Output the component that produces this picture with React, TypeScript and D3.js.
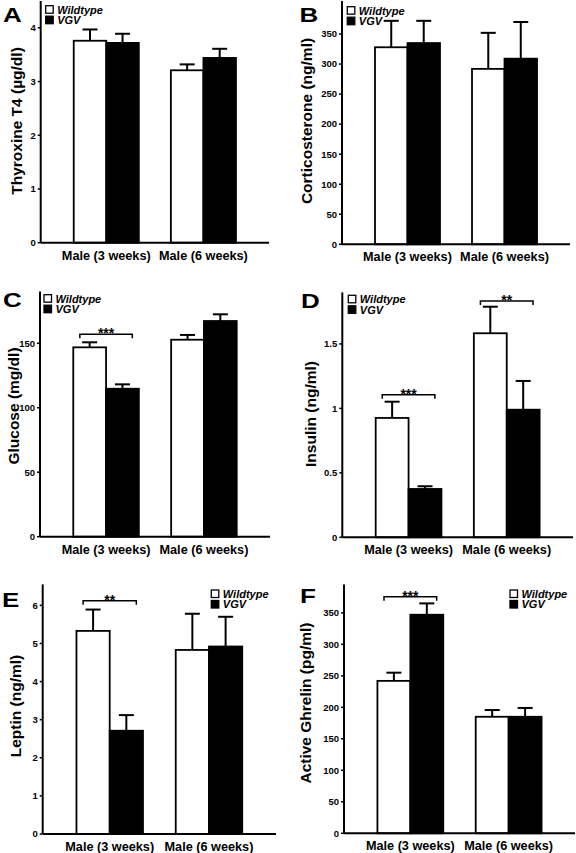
import React from "react";
import * as d3 from "d3";

const groups = ["Male (3 weeks)", "Male (6 weeks)"];
const seriesNames = ["Wildtype", "VGV"];

const thyroxineWT = [3.76, 3.21];
const thyroxineWTErr = [0.21, 0.11];
const thyroxineVGV = [3.72, 3.44];
const thyroxineVGVErr = [0.17, 0.17];
const thyroxineTicks = [0, 1, 2, 3, 4];

const corticoWT = [328, 292];
const corticoWTErr = [44, 60];
const corticoVGV = [335, 309];
const corticoVGVErr = [37, 61];
const corticoTicks = [0, 50, 100, 150, 200, 250, 300, 350];

const glucoseWT = [146.8, 152.7];
const glucoseWTErr = [3.9, 3.7];
const glucoseVGV = [114.7, 167.2];
const glucoseVGVErr = [3.4, 5.2];
const glucoseTicks = [0, 50, 100, 150];

const insulinWT = [0.926, 1.583];
const insulinWTErr = [0.126, 0.206];
const insulinVGV = [0.375, 0.99];
const insulinVGVErr = [0.021, 0.223];
const insulinTicks = [0, 0.5, 1, 1.5];

const leptinWT = [5.33, 4.83];
const leptinWTErr = [0.56, 0.95];
const leptinVGV = [2.71, 4.92];
const leptinVGVErr = [0.41, 0.78];
const leptinTicks = [0, 1, 2, 3, 4, 5, 6];

const ghrelinWT = [242, 185];
const ghrelinWTErr = [13, 10.7];
const ghrelinVGV = [347, 185];
const ghrelinVGVErr = [18, 14];
const ghrelinTicks = [0, 50, 100, 150, 200, 250, 300, 350];

const FONT = "'Liberation Sans', Arial, Helvetica, sans-serif";

type Sig = { group: number; value: number; text: string };
type Panel = {
  letter: string;
  letterX: number;
  letterY: number;
  label: string;
  labelX: number;
  labelY: number;
  axisX: number;
  axisEnd: number;
  top: number;
  bottom: number;
  yMax: number;
  ticks: number[];
  legendX: number;
  legendY: number;
  wt: number[];
  wtErr: number[];
  vgv: number[];
  vgvErr: number[];
  sig: Sig[];
};

const panels: Panel[] = [
  {
    letter: "A", letterX: 3, letterY: 21.7, label: "Thyroxine T4 (\u00b5g/dl)", labelX: 22, labelY: 121,
    axisX: 40.7, axisEnd: 269, top: 1, bottom: 242.7, yMax: 4.5, ticks: thyroxineTicks,
    legendX: 45.7, legendY: 5.7,
    wt: thyroxineWT, wtErr: thyroxineWTErr, vgv: thyroxineVGV, vgvErr: thyroxineVGVErr, sig: [],
  },
  {
    letter: "B", letterX: 299.5, letterY: 21.7, label: "Corticosterone (ng/ml)", labelX: 312, labelY: 121,
    axisX: 342, axisEnd: 570, top: 1, bottom: 244.3, yMax: 405, ticks: corticoTicks,
    legendX: 347.3, legendY: 6.7,
    wt: corticoWT, wtErr: corticoWTErr, vgv: corticoVGV, vgvErr: corticoVGVErr, sig: [],
  },
  {
    letter: "C", letterX: 3, letterY: 306.5, label: "Glucose (mg/dl)", labelX: 19, labelY: 406,
    axisX: 40, axisEnd: 270, top: 291.6, bottom: 536.7, yMax: 190, ticks: glucoseTicks,
    legendX: 44, legendY: 294.7,
    wt: glucoseWT, wtErr: glucoseWTErr, vgv: glucoseVGV, vgvErr: glucoseVGVErr,
    sig: [{ group: 0, value: 157, text: "***" }],
  },
  {
    letter: "D", letterX: 301, letterY: 308.3, label: "Insulin (ng/ml)", labelX: 316, labelY: 414,
    axisX: 342.3, axisEnd: 573, top: 292.4, bottom: 537.3, yMax: 1.9, ticks: insulinTicks,
    legendX: 348.3, legendY: 295.3,
    wt: insulinWT, wtErr: insulinWTErr, vgv: insulinVGV, vgvErr: insulinVGVErr,
    sig: [
      { group: 0, value: 1.106, text: "***" },
      { group: 1, value: 1.833, text: "**" },
    ],
  },
  {
    letter: "E", letterX: 2, letterY: 606.7, label: "Leptin (ng/ml)", labelX: 21, labelY: 706,
    axisX: 42.7, axisEnd: 276, top: 584.4, bottom: 834, yMax: 6.55, ticks: leptinTicks,
    legendX: 211.3, legendY: 590,
    wt: leptinWT, wtErr: leptinWTErr, vgv: leptinVGV, vgvErr: leptinVGVErr,
    sig: [{ group: 0, value: 6.12, text: "**" }],
  },
  {
    letter: "F", letterX: 300, letterY: 603.3, label: "Active Ghrelin (pg/ml)", labelX: 311, labelY: 703,
    axisX: 344, axisEnd: 575, top: 584.5, bottom: 833.3, yMax: 395, ticks: ghrelinTicks,
    legendX: 510, legendY: 590,
    wt: ghrelinWT, wtErr: ghrelinWTErr, vgv: ghrelinVGV, vgvErr: ghrelinVGVErr,
    sig: [{ group: 0, value: 375.6, text: "***" }],
  },
];

function PanelChart({ p }: { p: Panel }) {
  const x = d3
    .scaleBand<string>()
    .domain(groups)
    .range([p.axisX, p.axisEnd])
    .paddingInner(0.33)
    .paddingOuter(0.34);
  const xs = d3.scaleBand<string>().domain(seriesNames).range([0, x.bandwidth()]).padding(0);
  const y = d3.scaleLinear().domain([0, p.yMax]).range([p.bottom, p.top]);
  const series = [
    { name: "Wildtype", vals: p.wt, errs: p.wtErr, fill: "#fff" },
    { name: "VGV", vals: p.vgv, errs: p.vgvErr, fill: "#000" },
  ];
  const capW = 15;
  return (
    <g>
      <text
        transform={`translate(${p.letterX},${p.letterY}) scale(1.3,1)`}
        fontSize={20}
        fontWeight="bold"
        fontFamily={FONT}
      >
        {p.letter}
      </text>
      <text
        transform={`translate(${p.labelX},${p.labelY}) rotate(-90)`}
        textAnchor="middle"
        fontSize={15.5}
        fontWeight="bold"
        fontFamily={FONT}
      >
        {p.label}
      </text>
      {series.map((s) =>
        groups.map((g, i) => {
          const bx = (x(g) as number) + (xs(s.name) as number);
          const bw = xs.bandwidth();
          const cx = bx + bw / 2;
          const yt = y(s.vals[i]);
          const ye = y(s.vals[i] + s.errs[i]);
          return (
            <g key={s.name + g}>
              <line x1={cx} x2={cx} y1={yt} y2={ye} stroke="#000" strokeWidth={2} />
              <line x1={cx - capW / 2} x2={cx + capW / 2} y1={ye} y2={ye} stroke="#000" strokeWidth={2} />
              <rect x={bx} y={yt} width={bw} height={p.bottom - yt} fill={s.fill} stroke="#000" strokeWidth={1.8} />
            </g>
          );
        })
      )}
      <line x1={p.axisX} x2={p.axisX} y1={p.top} y2={p.bottom} stroke="#000" strokeWidth={2} />
      <line x1={p.axisX} x2={p.axisEnd} y1={p.bottom} y2={p.bottom} stroke="#000" strokeWidth={2} />
      {p.ticks.map((t) => (
        <g key={t}>
          <line x1={p.axisX - 3} x2={p.axisX} y1={y(t)} y2={y(t)} stroke="#000" strokeWidth={1.5} />
          <text
            x={p.axisX - 5}
            y={y(t)}
            dy="0.35em"
            textAnchor="end"
            fontSize={9.5}
            fontWeight="bold"
            fontFamily={FONT}
          >
            {String(t)}
          </text>
        </g>
      ))}
      {groups.map((g) => (
        <text
          key={g}
          x={(x(g) as number) + x.bandwidth() / 2}
          y={p.bottom + 17}
          textAnchor="middle"
          fontSize={12.7}
          fontWeight="bold"
          fontFamily={FONT}
        >
          {g}
        </text>
      ))}
      {p.sig.map((s, k) => {
        const g = groups[s.group];
        const x0 = (x(g) as number) + x.bandwidth() * 0.1;
        const x1 = (x(g) as number) + x.bandwidth() * 0.9;
        const yy = y(s.value);
        return (
          <g key={k}>
            <path
              d={`M${x0},${yy + 4}V${yy}H${x1}V${yy + 4}`}
              fill="none"
              stroke="#000"
              strokeWidth={1.5}
            />
            <text
              x={(x0 + x1) / 2}
              y={yy + 4}
              textAnchor="middle"
              fontSize={14}
              fontWeight="bold"
              fontFamily={FONT}
            >
              {s.text}
            </text>
          </g>
        );
      })}
      {series.map((s, i) => (
        <g key={s.name}>
          <rect
            x={p.legendX}
            y={p.legendY + i * 10.5}
            width={7.5}
            height={7.5}
            fill={s.fill}
            stroke="#000"
            strokeWidth={1.3}
          />
          <text
            x={p.legendX + 11.5}
            y={p.legendY + i * 10.5 + 7.8}
            fontSize={11}
            fontWeight="bold"
            fontStyle="italic"
            fontFamily={FONT}
          >
            {s.name}
          </text>
        </g>
      ))}
    </g>
  );
}

export default function App() {
  return (
    <svg
      width={576}
      height={853}
      style={{ position: "absolute", left: 0, top: 0, background: "#fff" }}
    >
      <rect width={576} height={853} fill="#fff" />
      {panels.map((p) => (
        <PanelChart key={p.letter} p={p} />
      ))}
    </svg>
  );
}
